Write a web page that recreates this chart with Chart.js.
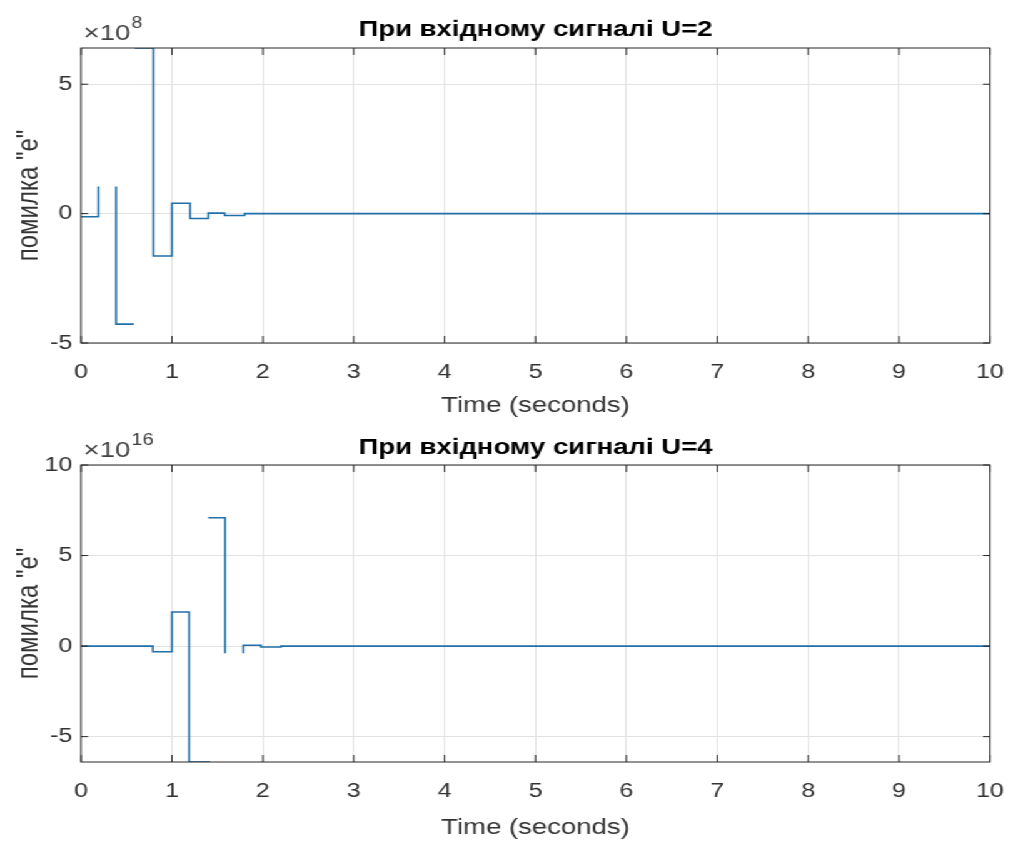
<!DOCTYPE html>
<html>
<head>
<meta charset="utf-8">
<title>Помилка e</title>
<script src="https://cdn.jsdelivr.net/npm/chart.js@4.4.1/dist/chart.umd.min.js"></script>
<style>
    html, body { margin: 0; padding: 0; background: #fff; overflow: hidden; }
    /* the figure is laid out narrow and stretched sideways, like the exported plot */
    #figure { width: 814px; height: 843px; transform: scaleX(1.2506); transform-origin: 0 0; }
    .panel { position: relative; width: 814px; }
    #panelTop { height: 421px; }
    #panelBottom { height: 422px; }
</style>
</head>
<body>
<div id="figure">
    <div class="panel" id="panelTop"><canvas id="errU2"></canvas></div>
    <div class="panel" id="panelBottom"><canvas id="errU4"></canvas></div>
</div>
<script>
// ===== DATA =====
const timeTicks = [0, 1, 2, 3, 4, 5, 6, 7, 8, 9, 10];

// U=2, error "e" in units of 1e8 (null breaks the trace)
const timeU2 = [0, 0.19, 0.19, 0.19, 0.385, 0.385, 0.58, 0.58, 0.59, 0.795, 0.795,
    1.0, 1.0, 1.2, 1.2, 1.4, 1.4, 1.58, 1.58, 1.8, 1.8, 10];
const errU2 = [-0.12, -0.12, 1.05, null, 1.05, -4.27, -4.27, null, 6.4, 6.4, -1.64,
    -1.64, 0.4, 0.4, -0.19, -0.19, 0.02, 0.02, -0.07, -0.07, 0, 0];
const yTicksU2 = [-5, 0, 5];

// U=4, error "e" in units of 1e16
const timeU4 = [0, 0.79, 0.79, 1.0, 1.0, 1.19, 1.19, 1.42, 1.42, 1.4, 1.585, 1.585,
    1.585, 1.785, 1.785, 1.98, 1.98, 2.2, 2.2, 10];
const errU4 = [0, 0, -0.31, -0.31, 1.88, 1.88, -6.4, -6.4, null, 7.09, 7.09, -0.4,
    null, -0.4, 0.05, 0.05, -0.05, -0.05, 0, 0];
const yTicksU4 = [-5, 0, 5, 10];

// ===== STYLE =====
const FONT = "'Liberation Sans', Arial, Helvetica, sans-serif";
const LINE_BLUE = "#1f6fa8";
const GRID = "#e2e2e2";
const FRAME = "#262626";

// box, inward ticks and the "x10^n" multiplier
const matlabFrame = {
    id: "matlabFrame",
    afterDatasetsDraw(chart, args, opts) {
        const { ctx, chartArea: a, scales } = chart;
        const x = scales.x;
        const y = scales.y;
        ctx.save();
        ctx.strokeStyle = FRAME;
        ctx.lineWidth = 1;
        ctx.beginPath();
        x.ticks.forEach((t) => {
            const px = x.getPixelForValue(t.value);
            ctx.moveTo(px, a.bottom);
            ctx.lineTo(px, a.bottom - 7);
            ctx.moveTo(px, a.top);
            ctx.lineTo(px, a.top + 7);
        });
        y.ticks.forEach((t) => {
            const py = y.getPixelForValue(t.value);
            ctx.moveTo(a.left, py);
            ctx.lineTo(a.left + 5.6, py);
            ctx.moveTo(a.right, py);
            ctx.lineTo(a.right - 5.6, py);
        });
        ctx.stroke();
        ctx.strokeRect(a.left, a.top, a.width, a.height);

        ctx.fillStyle = "#404040";
        ctx.textBaseline = "alphabetic";
        ctx.textAlign = "left";
        ctx.font = "22px " + FONT;
        ctx.fillText("×10", a.left + 2, a.top - 8);
        const w = ctx.measureText("×10").width;
        ctx.font = "16px " + FONT;
        ctx.fillText(opts.exponent, a.left + 3 + w, a.top - 20);
        ctx.restore();
    },
};

function makeErrorChart(canvasId, times, errs, yMin, yMax, yTicks, cfg) {
    const points = times.map((t, i) => ({ x: t, y: errs[i] }));
    return new Chart(document.getElementById(canvasId), {
        type: "line",
        data: {
            datasets: [
                {
                    data: points,
                    borderColor: LINE_BLUE,
                    borderWidth: 1.6,
                    pointRadius: 0,
                    tension: 0,
                    spanGaps: false,
                },
            ],
        },
        plugins: [matlabFrame],
        options: {
            responsive: true,
            maintainAspectRatio: false,
            animation: false,
            layout: { padding: { left: 0, right: 22.4, top: 0, bottom: 0 } },
            plugins: {
                legend: { display: false },
                tooltip: { enabled: false },
                title: {
                    display: true,
                    fullSize: false,
                    text: cfg.title,
                    color: "#000",
                    font: { family: FONT, size: 22, weight: "bold" },
                    padding: cfg.titlePad,
                },
                matlabFrame: { exponent: cfg.exponent },
            },
            scales: {
                x: {
                    type: "linear",
                    min: 0,
                    max: 10,
                    afterBuildTicks: (s) => {
                        s.ticks = timeTicks.map((v) => ({ value: v }));
                    },
                    afterFit: (s) => {
                        s.height = cfg.xAxisHeight;
                        s.paddingLeft = 0;
                        s.paddingRight = 0;
                    },
                    grid: { color: GRID, drawTicks: false },
                    border: { display: false },
                    ticks: {
                        color: "#333",
                        font: { family: FONT, size: 20 },
                        padding: 17,
                        maxRotation: 0,
                    },
                    title: {
                        display: true,
                        text: "Time (seconds)",
                        color: "#333",
                        font: { family: FONT, size: 22 },
                        padding: { top: 0, bottom: 2 },
                    },
                },
                y: {
                    type: "linear",
                    min: yMin,
                    max: yMax,
                    afterBuildTicks: (s) => {
                        s.ticks = yTicks.map((v) => ({ value: v }));
                    },
                    afterFit: (s) => {
                        s.width = 64.8;
                    },
                    grid: { color: GRID, drawTicks: false },
                    border: { display: false },
                    ticks: {
                        color: "#333",
                        font: { family: FONT, size: 20 },
                        padding: 7,
                    },
                    title: {
                        display: true,
                        text: "помилка \"e\"",
                        color: "#333",
                        font: { family: FONT, size: 24 },
                        padding: { top: 9, bottom: 0 },
                    },
                },
            },
        },
    });
}

makeErrorChart("errU2", timeU2, errU2, -5, 6.4, yTicksU2, {
    title: "При вхідному сигналі U=2",
    titlePad: { top: 16.8, bottom: 4.8 },
    exponent: "8",
    xAxisHeight: 78,
});

makeErrorChart("errU4", timeU4, errU4, -6.4, 10, yTicksU4, {
    title: "При вхідному сигналі U=4",
    titlePad: { top: 13.8, bottom: 3.8 },
    exponent: "16",
    xAxisHeight: 81,
});
</script>
</body>
</html>
